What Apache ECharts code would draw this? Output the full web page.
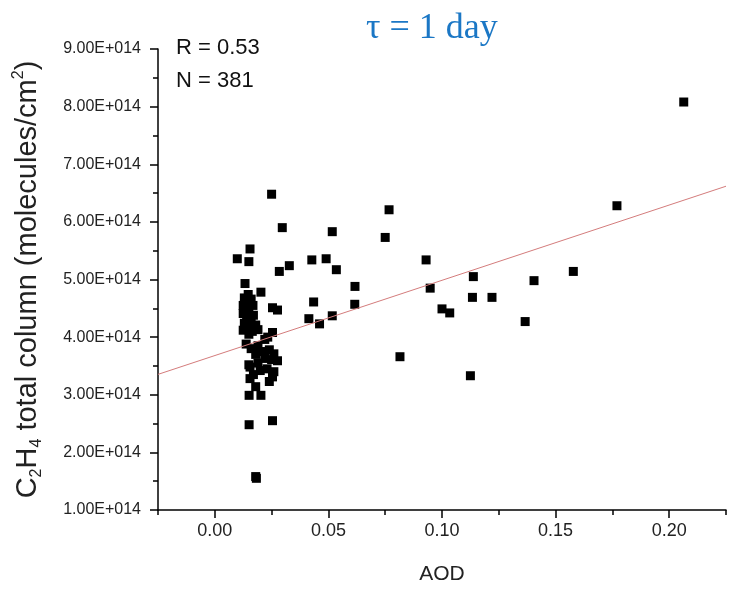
<!DOCTYPE html>
<html>
<head>
<meta charset="utf-8">
<script src="https://cdn.jsdelivr.net/npm/echarts@6/dist/echarts.min.js"></script>
<style>html,body{margin:0;padding:0;background:#fff;overflow:hidden;}#c{width:729px;height:590px;}</style>
</head>
<body>
<div id="c"></div>
<script>
// AOD values (x)
const aod = [
  0.0250, 0.0297, 0.0517, 0.0767, 0.0750, 0.1770, 0.2064, 0.0930, 0.0427, 0.0490,
  0.0328, 0.0284, 0.0535, 0.0617, 0.1138, 0.1405, 0.1578, 0.0948, 0.0435, 0.0616,
  0.1134, 0.1220, 0.1000, 0.1034, 0.0414, 0.0461, 0.0517, 0.1366, 0.0815, 0.1125,
  0.0155, 0.0099, 0.0150, 0.0133, 0.0203, 0.0147, 0.0254, 0.0276,
  0.0130, 0.0160, 0.0140, 0.0125, 0.0168, 0.0135, 0.0150, 0.0125, 0.0170, 0.0140,
  0.0160, 0.0130, 0.0180, 0.0145, 0.0125, 0.0165, 0.0190, 0.0150,
  0.0254, 0.0233, 0.0220, 0.0138, 0.0190, 0.0160, 0.0210, 0.0240, 0.0180, 0.0260,
  0.0276, 0.0220, 0.0250, 0.0150, 0.0155, 0.0190, 0.0200, 0.0230, 0.0260, 0.0170,
  0.0254, 0.0155, 0.0240, 0.0180, 0.0151, 0.0203,
  0.0151, 0.0254, 0.0180, 0.0183
];
// C2H4 total column (molecules/cm2)
const c2h4 = [
  6.48e14, 5.90e14, 5.83e14, 6.21e14, 5.73e14, 6.28e14, 8.08e14, 5.34e14, 5.34e14, 5.36e14,
  5.24e14, 5.14e14, 5.17e14, 4.88e14, 5.05e14, 4.98e14, 5.14e14, 4.85e14, 4.61e14, 4.57e14,
  4.69e14, 4.69e14, 4.49e14, 4.42e14, 4.32e14, 4.23e14, 4.37e14, 4.27e14, 3.66e14, 3.33e14,
  5.53e14, 5.36e14, 5.31e14, 4.93e14, 4.78e14, 4.74e14, 4.51e14, 4.47e14,
  4.68e14, 4.66e14, 4.60e14, 4.55e14, 4.55e14, 4.49e14, 4.44e14, 4.41e14, 4.38e14, 4.34e14,
  4.29e14, 4.24e14, 4.21e14, 4.17e14, 4.12e14, 4.10e14, 4.13e14, 4.05e14,
  4.08e14, 4.00e14, 3.96e14, 3.88e14, 3.85e14, 3.80e14, 3.75e14, 3.78e14, 3.70e14, 3.71e14,
  3.59e14, 3.63e14, 3.61e14, 3.52e14, 3.48e14, 3.55e14, 3.42e14, 3.45e14, 3.40e14, 3.35e14,
  3.31e14, 3.28e14, 3.23e14, 3.14e14, 2.99e14, 2.99e14,
  2.48e14, 2.55e14, 1.58e14, 1.55e14
];
// Linear fit
const fitIntercept = 3.68e14;
const fitSlope = 1.306e15;
const fitX = [-0.025, 0.225];
const statsText = ['R = 0.53', 'N = 381'];
const titleText = 'τ = 1 day';

const SANS = '"Liberation Sans", Arial, sans-serif';
const chart = echarts.init(document.getElementById('c'), null, {renderer: 'canvas'});
const pts = aod.map((x, i) => [x, c2h4[i]]);
const fitPts = fitX.map(x => [x, fitIntercept + fitSlope * x]);

function isMajor(v) {
  const k = v / 0.05;
  return Math.abs(k - Math.round(k)) < 1e-6 && v > -1e-9 && v < 0.2 + 1e-9;
}

chart.setOption({
  animation: false,
  backgroundColor: '#fff',
  grid: {left: 158, width: 580, top: 49, height: 470, containLabel: false},
  xAxis: [{
    type: 'value', min: -0.025, max: 0.225, interval: 0.025,
    axisLine: {show: true, onZero: false, lineStyle: {color: '#000', width: 1.5}},
    axisTick: {show: false},
    splitLine: {show: false},
    axisLabel: {
      show: true, margin: 12, color: '#222', fontFamily: SANS, fontSize: 18,
      formatter: v => isMajor(v) ? v.toFixed(2) : ''
    },
    name: 'AOD', nameLocation: 'middle', nameGap: 54,
    nameTextStyle: {color: '#222', fontFamily: SANS, fontSize: 21}
  }, {
    type: 'value', min: -0.025, max: 0.225, interval: 0.05, position: 'bottom',
    axisLine: {show: false, onZero: false},
    axisTick: {show: true, inside: false, length: 5, lineStyle: {color: '#000', width: 1.5}},
    minorTick: {show: true, splitNumber: 2, length: 8, lineStyle: {color: '#000', width: 1.5}},
    axisLabel: {show: false},
    splitLine: {show: false}
  }],
  yAxis: {
    type: 'value', min: 1e14, max: 9e14, interval: 1e14,
    axisLine: {show: true, onZero: false, lineStyle: {color: '#000', width: 1.5}},
    axisTick: {show: true, length: 8, lineStyle: {color: '#000', width: 1.5}},
    minorTick: {show: true, splitNumber: 2, length: 5, lineStyle: {color: '#000', width: 1.5}},
    splitLine: {show: false},
    axisLabel: {
      margin: 17, color: '#222', fontFamily: SANS, fontSize: 16,
      formatter: v => (v / 1e14).toFixed(2) + 'E+014'
    },
    name: '{n|C}{s|2}{n|H}{s|4}{n| total column (molecules/cm}{p|2}{n|)}',
    nameLocation: 'middle', nameRotate: 90, nameGap: 113,
    nameTextStyle: {
      color: '#222', fontFamily: SANS,
      rich: {
        n: {fontSize: 29, lineHeight: 34, fontFamily: SANS, color: '#222'},
        s: {fontSize: 16, lineHeight: 16, verticalAlign: 'bottom', fontFamily: SANS, color: '#222'},
        p: {fontSize: 16, lineHeight: 16, verticalAlign: 'top', fontFamily: SANS, color: '#222'}
      }
    }
  },
  series: [{
    type: 'scatter', xAxisIndex: 0, data: pts,
    symbol: 'rect', symbolSize: 9,
    itemStyle: {color: '#000', opacity: 1}, z: 2
  }, {
    type: 'line', xAxisIndex: 0, data: fitPts,
    symbol: 'none', lineStyle: {color: '#d47c7c', width: 1}, z: 3
  }],
  graphic: [{
    type: 'text', left: 176, top: 37, z: 10,
    style: {text: statsText[0], font: '22px ' + SANS, fill: '#111'}
  }, {
    type: 'text', left: 176, top: 70, z: 10,
    style: {text: statsText[1], font: '22px ' + SANS, fill: '#111'}
  }, {
    type: 'text', left: 366, top: 11, z: 10,
    style: {text: titleText, font: '36px "Liberation Serif", "Times New Roman", serif', fill: '#1b77c5'}
  }]
});
</script>
</body>
</html>
